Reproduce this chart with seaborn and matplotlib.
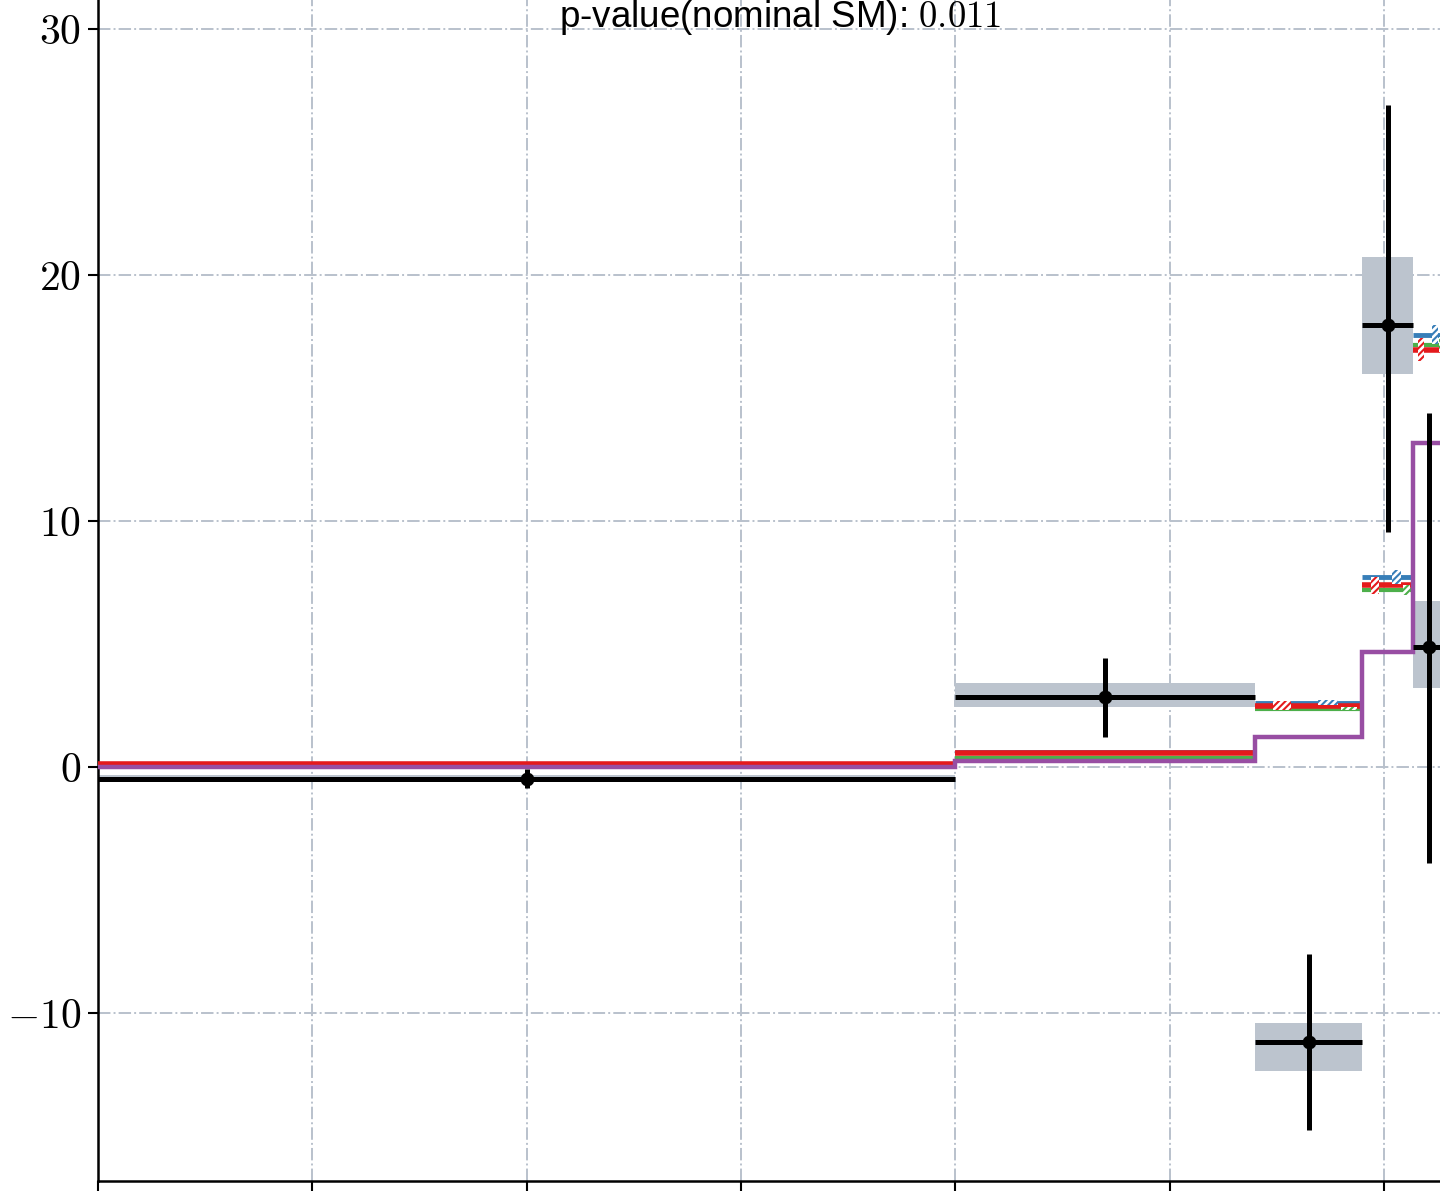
import numpy as np
import matplotlib
matplotlib.use("Agg")
import matplotlib.pyplot as plt
import seaborn as sns

# bin edges (x units, labels are cut off in the reference)
edges = np.array([0.0, 4.0, 5.4, 5.9, 6.136, 6.288])
xticks = [0, 1, 2, 3, 4, 5, 6, 7]
yticks = [-10, 0, 10, 20, 30]

# measured data with stat (error bar) and syst (grey box) uncertainties
data = np.array([-0.47, 2.85, -11.18, 17.97, 4.89])
stat_up = np.array([0.40, 1.58, 3.58, 8.94, 9.49])
stat_dn = np.array([0.40, 1.63, 3.58, 8.42, 8.78])
syst_up = np.array([0.15, 0.56, 0.77, 2.76, 1.86])
syst_dn = np.array([0.15, 0.41, 1.18, 1.99, 1.68])

# predictions
pred_blue = np.array([0.10, 0.62, 2.62, 7.72, 17.58])
pred_green = np.array([0.08, 0.38, 2.36, 7.18, 17.17])
pred_red = np.array([0.11, 0.55, 2.49, 7.38, 16.97])
pred_purple = np.array([0.0, 0.26, 1.22, 4.67, 13.15])
unc_blue = np.array([0.0, 0.0, 0.10, 0.30, 0.40])
unc_green = np.array([0.0, 0.0, 0.06, 0.20, 0.30])
unc_red = np.array([0.0, 0.0, 0.18, 0.35, 0.45])

pvalue_text = "p-value(nominal SM): $0.011$"

sns.set_theme(style="ticks")
plt.rcParams["font.family"] = ["Liberation Sans", "DejaVu Sans"]
plt.rcParams["mathtext.fontset"] = "cm"
plt.rcParams["hatch.linewidth"] = 1.5

colors = {"blue": "#377eb8", "green": "#4daf4a", "red": "#e41a1c", "purple": "#984ea3"}
grid_color = "#b9c1cc"
box_color = "#bcc4ce"

fig = plt.figure(figsize=(14.4, 11.92), dpi=100)
px = 214.3  # pixels per x unit
ylo, yhi = -16.83, 31.2
ax = fig.add_axes([98 / 1440, 11 / 1192, (xticks[-1] - xticks[0]) * px / 1440,
                   (yhi - ylo) * 24.6 / 1192])

lefts, rights = edges[:-1], edges[1:]
widths = rights - lefts
centers = 0.5 * (lefts + rights)

# grey syst boxes
ax.bar(centers, syst_up + syst_dn, bottom=data - syst_dn, width=widths,
       color=box_color, linewidth=0, zorder=2)

# predictions as flat lines per bin
for vals, c, lw in [(pred_blue, "blue", 3.5), (pred_green, "green", 3.0), (pred_red, "red", 4.0)]:
    ax.hlines(vals, lefts, rights, colors=colors[c], linewidth=lw, zorder=3)

# small hatched uncertainty boxes inside each bin
for vals, unc, c, f0, f1 in [(pred_red, unc_red, "red", 0.17, 0.33),
                              (pred_blue, unc_blue, "blue", 0.59, 0.77),
                              (pred_green, unc_green, "green", 0.80, 0.95)]:
    keep = unc > 0
    ax.bar((lefts + f0 * widths)[keep], 2 * unc[keep], bottom=(vals - unc)[keep],
           width=((f1 - f0) * widths)[keep], align="edge", facecolor="white",
           edgecolor=colors[c], hatch="/////", linewidth=0, zorder=4)

ax.stairs(pred_purple, edges, baseline=None, color=colors["purple"], linewidth=3.2, zorder=4)

# data points
ax.errorbar(centers, data, xerr=widths / 2, yerr=[stat_dn, stat_up], fmt="none",
            ecolor="black", elinewidth=3.6, capsize=0, zorder=5)
sns.scatterplot(x=centers, y=data, color="black", s=100, edgecolor="black",
                linewidth=0, zorder=6, ax=ax)

ax.set_xlim(xticks[0], xticks[-1])
ax.set_ylim(ylo, yhi)
ax.set_xticks(xticks)
ax.set_xticklabels([])
ax.set_yticks(yticks)
ax.set_yticklabels([f"${v}$" if v >= 0 else f"$-{abs(v)}$" for v in yticks],
                   fontsize=30, color="black")
ax.grid(True, linestyle="-.", color=grid_color, linewidth=1.4, zorder=0)
ax.set_axisbelow(True)
ax.tick_params(axis="both", length=7, width=1.5, color="black", direction="out", pad=5)
for s in ["left", "bottom"]:
    ax.spines[s].set_linewidth(1.8)
    ax.spines[s].set_color("black")
sns.despine(ax=ax)

fig.text(780 / 1440, 1 - 27 / 1192, pvalue_text, ha="center", va="baseline",
         fontsize=26.5, color="black")

fig.savefig("out.png", dpi=100)
